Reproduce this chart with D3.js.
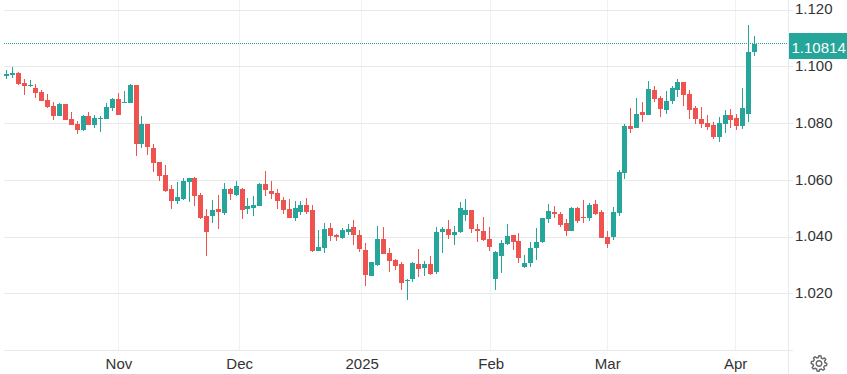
<!DOCTYPE html>
<html>
<head>
<meta charset="utf-8">
<script src="https://cdnjs.cloudflare.com/ajax/libs/d3/7.8.5/d3.min.js"></script>
<style>
	html, body { margin: 0; padding: 0; background: #fff; overflow: hidden; }
	text { font-family: "Liberation Sans", Arial, sans-serif; }
</style>
</head>
<body>
<div id="chart"></div>
<script>
//daily candles, Oct 2024 to Apr 2025
var open = [1.0967,1.0971,1.0978,1.0943,1.0932,1.0925,1.0911,1.0883,1.0861,1.0826,
	1.0869,1.0816,1.0798,1.0777,1.0826,1.0795,1.0816,1.0816,1.0854,1.0886,
	1.0872,1.0872,1.0936,1.0728,1.0798,1.0714,1.0664,1.0618,1.0569,1.0527,
	1.0534,1.0594,1.0608,1.0548,1.0474,1.0474,1.0499,1.0484,1.0569,1.0548,
	1.0569,1.0499,1.0502,1.0509,1.0587,1.0562,1.0555,1.0530,1.0499,1.0467,
	1.0488,1.0513,1.0495,1.0351,1.0361,1.0431,1.0407,1.0396,1.0417,1.0435,
	1.0407,1.0354,1.0262,1.0301,1.0393,1.0343,1.0319,1.0305,1.0245,1.0252,
	1.0305,1.0291,1.0305,1.0276,1.0417,1.0428,1.0407,1.0417,1.0477,1.0495,
	1.0428,1.0421,1.0393,1.0252,1.0333,1.0375,1.0407,1.0386,1.0294,1.0308,
	1.0361,1.0382,1.0463,1.0488,1.0481,1.0449,1.0421,1.0502,1.0470,1.0467,
	1.0516,1.0488,1.0400,1.0400,1.0484,1.0625,1.0791,1.0784,1.0840,1.0830,
	1.0918,1.0890,1.0847,1.0879,1.0918,1.0946,1.0904,1.0854,1.0816,1.0802,
	1.0795,1.0752,1.0798,1.0830,1.0819,1.0791,1.0833,1.1052];

var high = [1.0989,1.0999,1.0981,1.0957,1.0953,1.0939,1.0918,1.0904,1.0876,1.0872,
	1.0869,1.0840,1.0809,1.0830,1.0840,1.0830,1.0826,1.0872,1.0890,1.0907,
	1.0914,1.0939,1.0936,1.0826,1.0798,1.0728,1.0664,1.0654,1.0583,1.0594,
	1.0608,1.0608,1.0611,1.0555,1.0499,1.0530,1.0548,1.0590,1.0572,1.0597,
	1.0572,1.0537,1.0544,1.0590,1.0632,1.0597,1.0569,1.0541,1.0534,1.0527,
	1.0527,1.0537,1.0513,1.0425,1.0449,1.0449,1.0410,1.0431,1.0446,1.0460,
	1.0425,1.0379,1.0312,1.0439,1.0435,1.0361,1.0322,1.0312,1.0252,1.0312,
	1.0358,1.0315,1.0333,1.0435,1.0435,1.0460,1.0439,1.0523,1.0534,1.0495,
	1.0446,1.0470,1.0435,1.0351,1.0389,1.0446,1.0407,1.0414,1.0336,1.0382,
	1.0431,1.0467,1.0516,1.0509,1.0488,1.0463,1.0506,1.0506,1.0530,1.0520,
	1.0530,1.0495,1.0421,1.0506,1.0636,1.0798,1.0854,1.0890,1.0876,1.0950,
	1.0932,1.0897,1.0914,1.0932,1.0957,1.0946,1.0918,1.0861,1.0858,1.0830,
	1.0805,1.0823,1.0847,1.0851,1.0833,1.0925,1.1147,1.1108];

var low = [1.0957,1.0961,1.0936,1.0900,1.0929,1.0890,1.0879,1.0854,1.0812,1.0826,
	1.0812,1.0795,1.0763,1.0773,1.0795,1.0784,1.0770,1.0816,1.0844,1.0830,
	1.0872,1.0872,1.0685,1.0714,1.0689,1.0629,1.0597,1.0558,1.0499,1.0516,
	1.0530,1.0523,1.0509,1.0463,1.0333,1.0449,1.0428,1.0477,1.0530,1.0544,
	1.0463,1.0481,1.0474,1.0509,1.0544,1.0534,1.0499,1.0481,1.0467,1.0456,
	1.0477,1.0481,1.0347,1.0351,1.0343,1.0386,1.0386,1.0393,1.0407,1.0372,
	1.0347,1.0227,1.0262,1.0298,1.0340,1.0276,1.0284,1.0213,1.0178,1.0241,
	1.0259,1.0262,1.0266,1.0269,1.0343,1.0393,1.0372,1.0414,1.0456,1.0414,
	1.0382,1.0386,1.0351,1.0213,1.0273,1.0372,1.0354,1.0308,1.0291,1.0294,
	1.0319,1.0379,1.0449,1.0467,1.0435,1.0403,1.0421,1.0449,1.0449,1.0456,
	1.0477,1.0396,1.0361,1.0389,1.0474,1.0604,1.0766,1.0784,1.0805,1.0830,
	1.0876,1.0823,1.0833,1.0869,1.0893,1.0861,1.0816,1.0798,1.0784,1.0777,
	1.0745,1.0735,1.0766,1.0784,1.0777,1.0780,1.0805,1.1038];

var close = [1.0974,1.0978,1.0939,1.0932,1.0936,1.0907,1.0879,1.0858,1.0826,1.0869,
	1.0812,1.0795,1.0777,1.0826,1.0795,1.0819,1.0819,1.0858,1.0886,1.0830,
	1.0876,1.0936,1.0728,1.0798,1.0717,1.0661,1.0615,1.0562,1.0527,1.0541,
	1.0597,1.0608,1.0544,1.0467,1.0417,1.0495,1.0488,1.0569,1.0551,1.0580,
	1.0495,1.0509,1.0513,1.0587,1.0565,1.0551,1.0527,1.0495,1.0467,1.0502,
	1.0513,1.0488,1.0351,1.0365,1.0428,1.0403,1.0400,1.0425,1.0428,1.0407,
	1.0358,1.0266,1.0312,1.0393,1.0340,1.0315,1.0298,1.0238,1.0248,1.0308,
	1.0287,1.0305,1.0269,1.0417,1.0428,1.0407,1.0417,1.0502,1.0495,1.0428,
	1.0421,1.0389,1.0365,1.0347,1.0379,1.0403,1.0382,1.0326,1.0308,1.0361,
	1.0382,1.0467,1.0491,1.0481,1.0442,1.0421,1.0502,1.0456,1.0467,1.0513,
	1.0481,1.0396,1.0375,1.0488,1.0629,1.0791,1.0780,1.0833,1.0830,1.0921,
	1.0886,1.0851,1.0879,1.0925,1.0946,1.0900,1.0847,1.0816,1.0798,1.0787,
	1.0752,1.0802,1.0830,1.0812,1.0791,1.0854,1.1052,1.10814];

var lastPrice = 1.10814;
var priceTicks = [1.02, 1.04, 1.06, 1.08, 1.10, 1.12];
var monthLabels = ["Nov", "Dec", "2025", "Feb", "Mar", "Apr"];
//month starts in candle index units, some fall between two candles
var monthPos = [19, 39.5, 60.3, 82.2, 102, 123.7];

function init(){

	var w = 847;
	var h = 374;
	var plotLeft = 4;
	var plotRight = 788;
	var plotBottom = 350;

	var up = "#26a69a";
	var down = "#ef5350";

	var x = d3.scaleLinear().domain([0, open.length - 1]).range([6.5, 754.5]);
	var y = d3.scaleLinear().domain([1.12, 1.02]).range([9.93, 293.7]);

	var svg = d3.select("#chart")
				.append("svg")
				.attr("width", w)
				.attr("height", h)
				.style("display", "block");

	//vertical grid
	svg.append("g").selectAll("line")
		.data(monthPos)
		.enter()
		.append("line")
		.attr("x1", function(d){ return Math.floor(x(d)) + 0.5; })
		.attr("x2", function(d){ return Math.floor(x(d)) + 0.5; })
		.attr("y1", 0)
		.attr("y2", plotBottom)
		.attr("stroke", "#eef2f6");

	//horizontal grid, the -0.3 keeps the lines on the same pixel rows as the candles' grid
	svg.append("g").selectAll("line")
		.data(priceTicks)
		.enter()
		.append("line")
		.attr("x1", plotLeft)
		.attr("x2", plotRight + 5)
		.attr("y1", function(d){ return Math.round(y(d) - 0.3) + 0.5; })
		.attr("y2", function(d){ return Math.round(y(d) - 0.3) + 0.5; })
		.attr("stroke", "#e9e9e9");

	//frame of the axes
	svg.append("line")
		.attr("x1", plotLeft).attr("x2", plotRight + 5)
		.attr("y1", plotBottom + 0.5).attr("y2", plotBottom + 0.5)
		.attr("stroke", "#e6e9ee");
	svg.append("line")
		.attr("x1", plotRight + 0.5).attr("x2", plotRight + 0.5)
		.attr("y1", 0).attr("y2", h)
		.attr("stroke", "#e6e9ee");

	//last price line
	svg.append("line")
		.attr("x1", plotLeft)
		.attr("x2", plotRight)
		.attr("y1", Math.floor(y(lastPrice)) + 0.5)
		.attr("y2", Math.floor(y(lastPrice)) + 0.5)
		.attr("stroke", up)
		.attr("stroke-dasharray", "1,1");

	//candles
	var candles = svg.selectAll("g.candle")
					.data(d3.range(open.length))
					.enter()
					.append("g")
					.attr("class", "candle")
					.attr("fill", function(i){ return close[i] >= open[i] ? up : down; })
					.attr("shape-rendering", "crispEdges");

	candles.append("rect")
		.attr("x", function(i){ return Math.floor(x(i)); })
		.attr("width", 1)
		.attr("y", function(i){ return Math.round(y(high[i])); })
		.attr("height", function(i){ return Math.round(y(low[i])) - Math.round(y(high[i])); });

	candles.append("rect")
		.attr("x", function(i){ return Math.floor(x(i)) - 2; })
		.attr("width", 5)
		.attr("y", function(i){ return Math.round(y(Math.max(open[i], close[i]))); })
		.attr("height", function(i){
			return Math.max(1, Math.round(y(Math.min(open[i], close[i]))) - Math.round(y(Math.max(open[i], close[i]))));
		});

	//price axis
	var yAxis = d3.axisRight(y)
				.tickValues(priceTicks)
				.tickSize(0)
				.tickPadding(0)
				.tickFormat(d3.format(".3f"));

	var yG = svg.append("g")
				.attr("transform", "translate(795,-1)")
				.call(yAxis);
	yG.select(".domain").remove();
	yG.selectAll("text")
		.attr("font-size", 15)
		.attr("fill", "#333")
		.style("font-family", "'Liberation Sans', Arial, sans-serif");

	//month axis
	var xAxis = d3.axisBottom(x)
				.tickValues(monthPos)
				.tickSize(0)
				.tickPadding(0)
				.tickFormat(function(d, i){ return monthLabels[i]; });

	var xG = svg.append("g")
				.attr("transform", "translate(0,358)")
				.call(xAxis);
	xG.select(".domain").remove();
	xG.selectAll("text")
		.attr("font-size", 15)
		.attr("fill", "#333")
		.style("font-family", "'Liberation Sans', Arial, sans-serif");

	//last price tag
	svg.append("rect")
		.attr("x", plotRight + 1)
		.attr("y", 33)
		.attr("width", w - plotRight - 1)
		.attr("height", 26)
		.attr("fill", up);
	svg.append("text")
		.attr("x", 791.5)
		.attr("y", 52.5)
		.attr("font-size", 15)
		.attr("fill", "#fff")
		.text(d3.format(".5f")(lastPrice));

	//settings gear
	var teeth = d3.range(48).map(function(i){
		var phase = i % 6;
		return [i / 48 * 2 * Math.PI, (phase < 3) ? 7.8 : 6];
	});
	var gear = svg.append("g")
				.attr("transform", "translate(819,363.5)")
				.attr("fill", "none")
				.attr("stroke", "#666")
				.attr("stroke-width", 1.4);
	gear.append("path").attr("d", d3.lineRadial().curve(d3.curveLinearClosed)(teeth));
	gear.append("circle").attr("r", 2.8);
}

window.onload = init;
</script>
</body>
</html>
